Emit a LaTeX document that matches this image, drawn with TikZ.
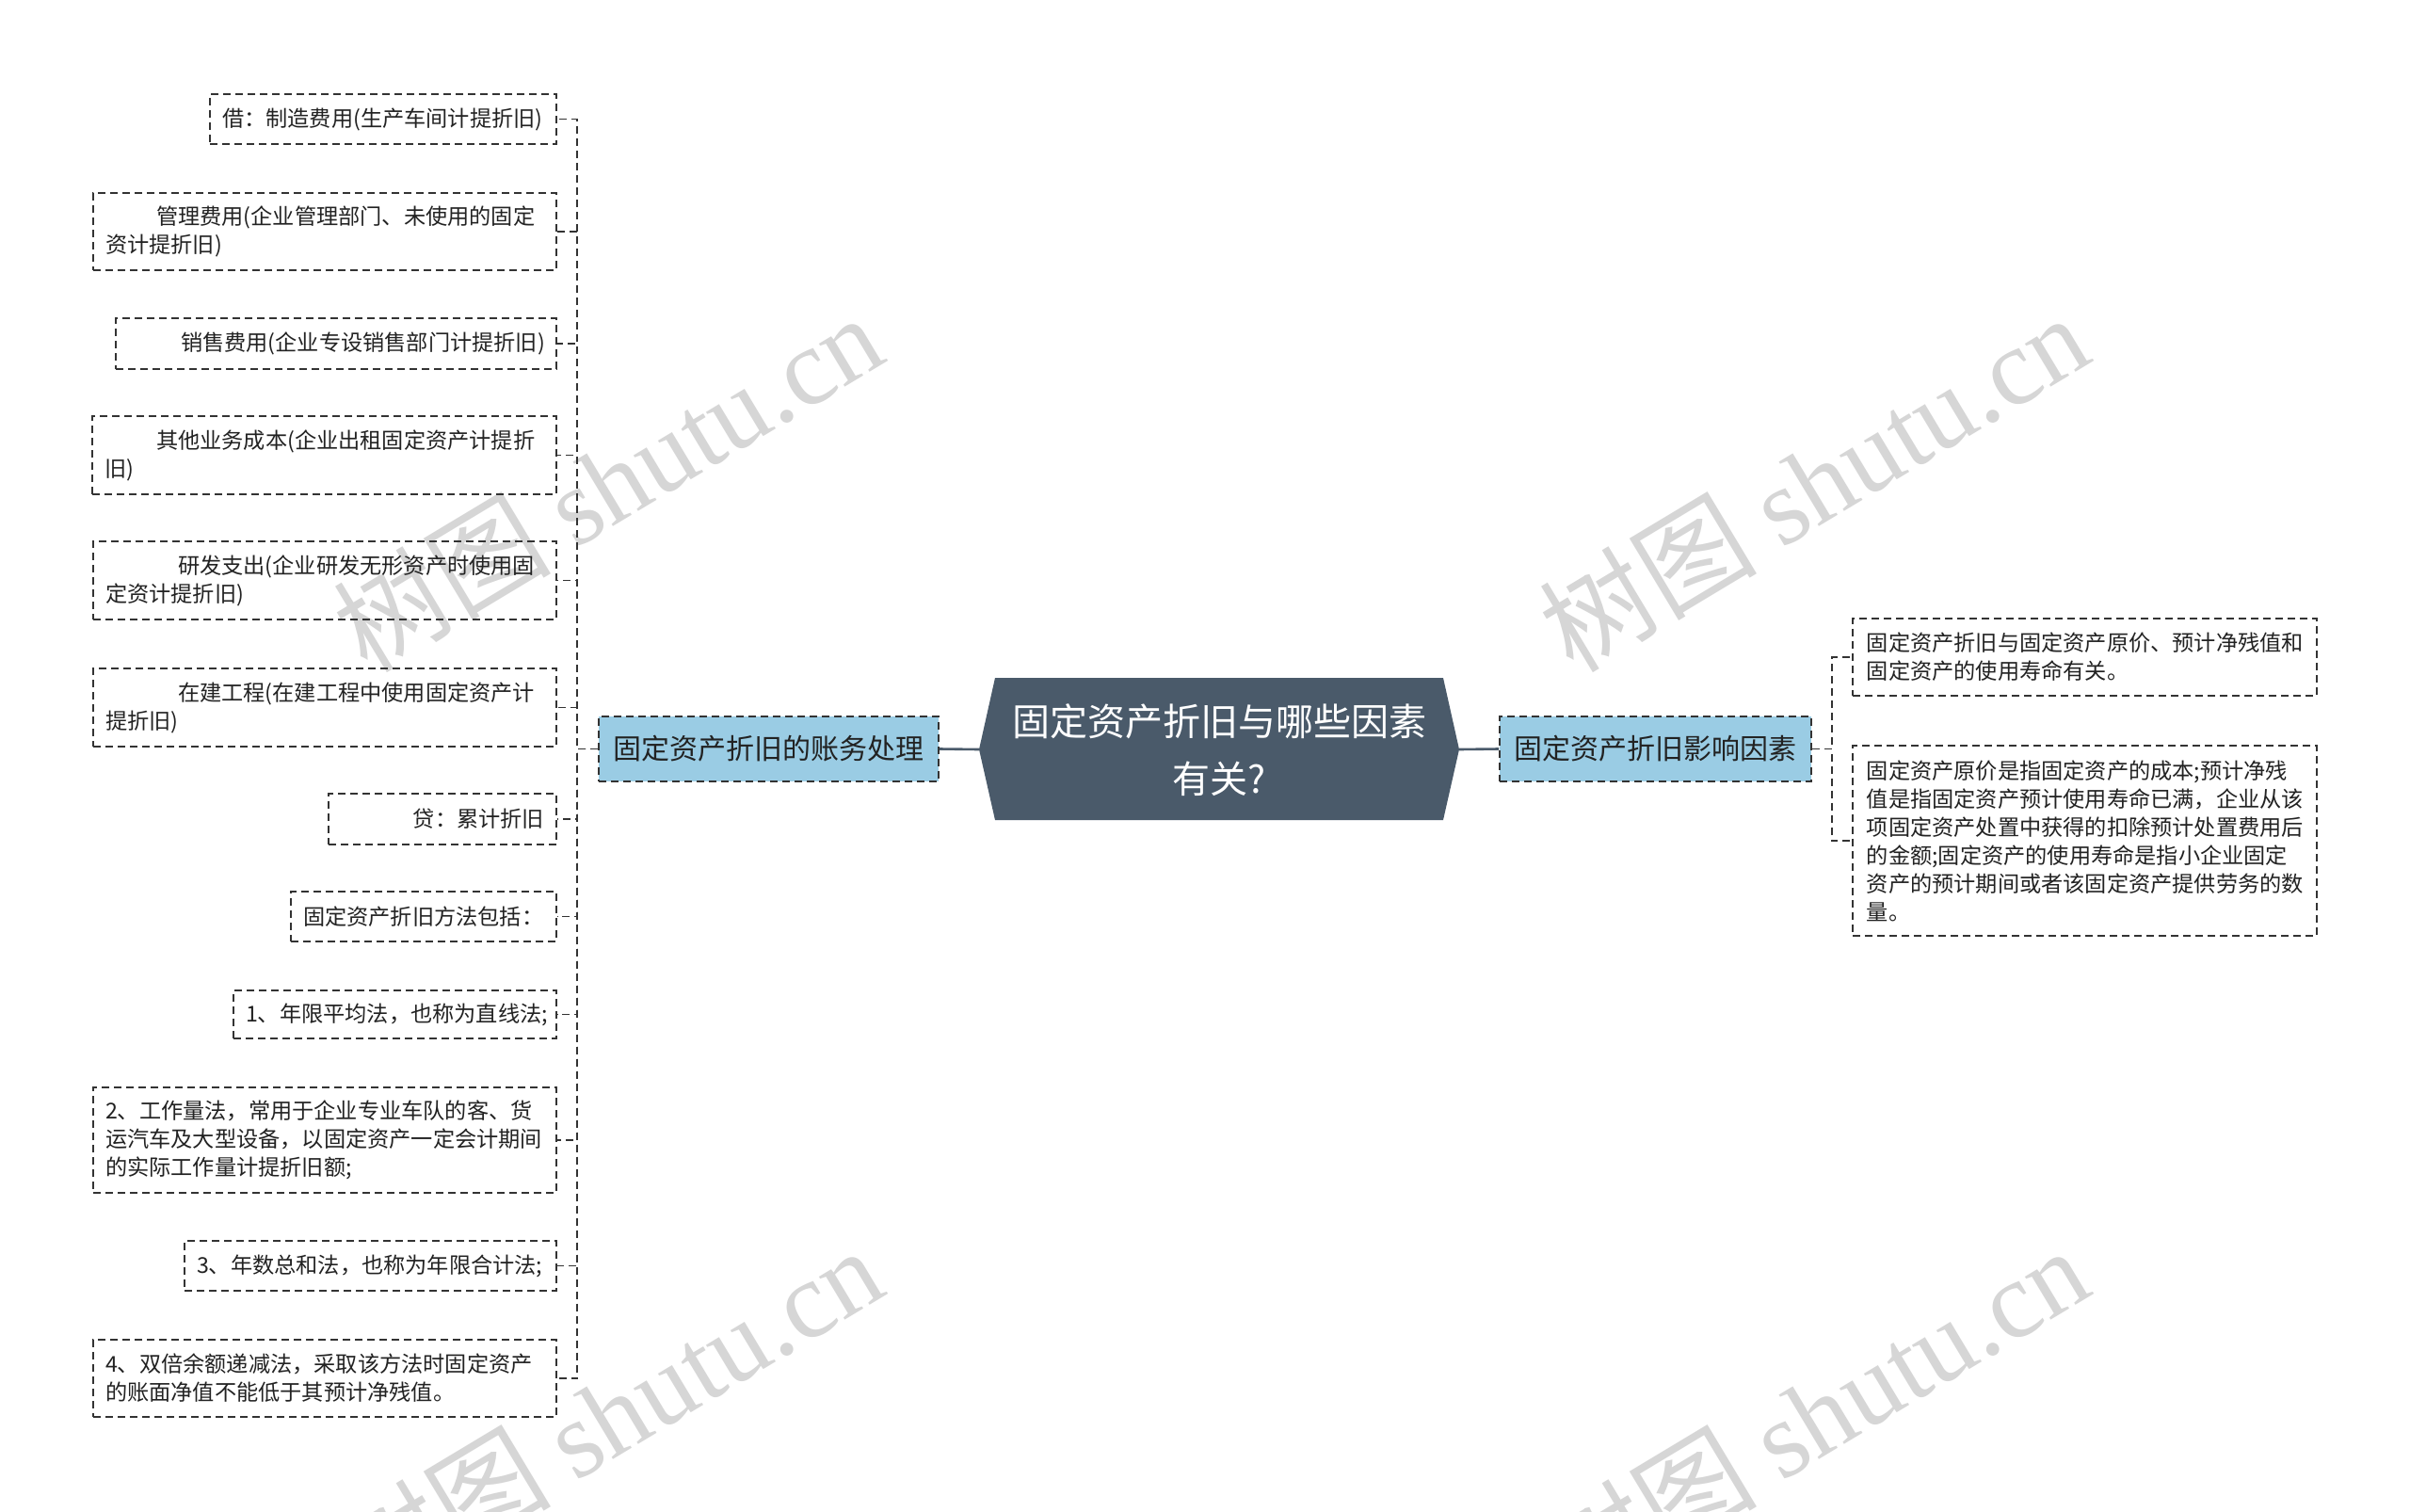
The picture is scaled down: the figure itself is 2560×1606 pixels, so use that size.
\documentclass[tikz,border=0pt]{standalone}
\usepackage{fontspec}
\setmainfont{Noto Sans CJK SC}
\newfontfamily\wmlat{Liberation Serif}
\definecolor{rootfill}{HTML}{4A5A6A}
\definecolor{parfill}{HTML}{9ACCE4}
\definecolor{linec}{HTML}{333333}
\definecolor{wmc}{HTML}{D6D6D6}
\definecolor{txtc}{HTML}{222222}
\begin{document}
\begin{tikzpicture}[x=0.5pt,y=-0.5pt,
 leaf/.style={draw=linec, line width=0.9pt, dash pattern=on 4pt off 2.5pt, inner xsep=6.5pt, inner ysep=0pt, align=left, anchor=east, text=txtc, font=\fontsize{11.6pt}{15pt}\selectfont},
 rleaf/.style={leaf, anchor=west, inner xsep=7.5pt},
 par/.style={draw=linec, fill=parfill, line width=0.9pt, dash pattern=on 4pt off 2.5pt, inner sep=0pt, minimum height=34.5pt, text=txtc, font=\fontsize{15pt}{18pt}\selectfont},
 conn/.style={draw=linec, line width=0.9pt, dash pattern=on 4pt off 2.5pt},
 rootconn/.style={draw=rootfill, line width=1.3pt},
 wm/.style={text=wmc, rotate=31, font=\fontsize{58pt}{58pt}\selectfont}
]
\useasboundingbox (0,0) rectangle (2560,1606);
\fill[white] (0,0) rectangle (2560,1606);
\clip (0,0) rectangle (2560,1606);

% watermarks
\node[wm] (w1) at (645,512) {树图 {\wmlat shutu.cn}};
\node[wm] (w2) at (1926,512) {树图 {\wmlat shutu.cn}};
\node[wm] (w3) at (645,1503) {树图 {\wmlat shutu.cn}};
\node[wm] (w4) at (1926,1503) {树图 {\wmlat shutu.cn}};

% root
\fill[rootfill] (1040,796) -- (1057,720) -- (1533,720) -- (1550,796) -- (1533,871) -- (1057,871) -- cycle;
\node[text=white, align=center, font=\fontsize{20pt}{30.5pt}\selectfont] (root) at (1295,797) {固定资产折旧与哪些因素\\有关?};
\coordinate (rootL) at (1040,796);
\coordinate (rootR) at (1550,796);

% parents
\node[par, minimum width=180.5pt] (lp) at (816.5,795.5) {固定资产折旧的账务处理};
\node[par, minimum width=165.5pt] (rp) at (1758.5,795.5) {固定资产折旧影响因素};

% left leaves
\node[leaf, text width=171pt, minimum height=26.5pt] (c1) at (592,126.5) {借：制造费用(生产车间计提折旧)};
\node[leaf, text width=233pt, minimum height=41pt] (c2) at (592,246) {\hspace*{27pt}管理费用(企业管理部门、未使用的固定\\资计提折旧)};
\node[leaf, text width=221pt, minimum height=27pt] (c3) at (592,365) {\hspace*{28pt}销售费用(企业专设销售部门计提折旧)};
\node[leaf, text width=233.5pt, minimum height=41.5pt] (c4) at (592,483.5) {\hspace*{27.5pt}其他业务成本(企业出租固定资产计提折\\旧)};
\node[leaf, text width=233pt, minimum height=41.5pt] (c5) at (592,616.5) {\hspace*{38.5pt}研发支出(企业研发无形资产时使用固\\定资计提折旧)};
\node[leaf, text width=233pt, minimum height=41.5pt] (c6) at (592,751.5) {\hspace*{38.5pt}在建工程(在建工程中使用固定资产计\\提折旧)};
\node[leaf, text width=108pt, minimum height=27pt, align=right] (c7) at (592,870) {贷：累计折旧};
\node[leaf, text width=128pt, minimum height=26.5pt] (c8) at (592,973.5) {固定资产折旧方法包括：};
\node[leaf, text width=158.5pt, minimum height=25.5pt] (c9) at (592,1077.5) {1、年限平均法，也称为直线法;};
\node[leaf, text width=233pt, minimum height=56pt] (c10) at (592,1211) {2、工作量法，常用于企业专业车队的客、货\\运汽车及大型设备，以固定资产一定会计期间\\的实际工作量计提折旧额;};
\node[leaf, text width=184.5pt, minimum height=26.5pt] (c11) at (592,1344.5) {3、年数总和法，也称为年限合计法;};
\node[leaf, text width=233pt, minimum height=41pt] (c12) at (592,1464) {4、双倍余额递减法，采取该方法时固定资产\\的账面净值不能低于其预计净残值。};

% right leaves
\node[rleaf, text width=231.5pt, minimum height=41pt] (r1) at (1967,698) {固定资产折旧与固定资产原价、预计净残值和\\固定资产的使用寿命有关。};
\node[rleaf, text width=231.5pt, minimum height=101pt] (r2) at (1967,893) {固定资产原价是指固定资产的成本;预计净残\\值是指固定资产预计使用寿命已满，企业从该\\项固定资产处置中获得的扣除预计处置费用后\\的金额;固定资产的使用寿命是指小企业固定\\资产的预计期间或者该固定资产提供劳务的数\\量。};

% connectors
\draw[rootconn] (rootL) -- (lp.east);
\draw[rootconn] (rootR) -- (rp.west);
\foreach \c in {c1,c2,c3,c4,c5,c6,c7,c8,c9,c10,c11,c12}
  \draw[conn] (lp.west) -- ++(-22,0) |- (\c.east);
\foreach \c in {r1,r2}
  \draw[conn] (rp.east) -- ++(21,0) |- (\c.west);
\end{tikzpicture}
\end{document}
